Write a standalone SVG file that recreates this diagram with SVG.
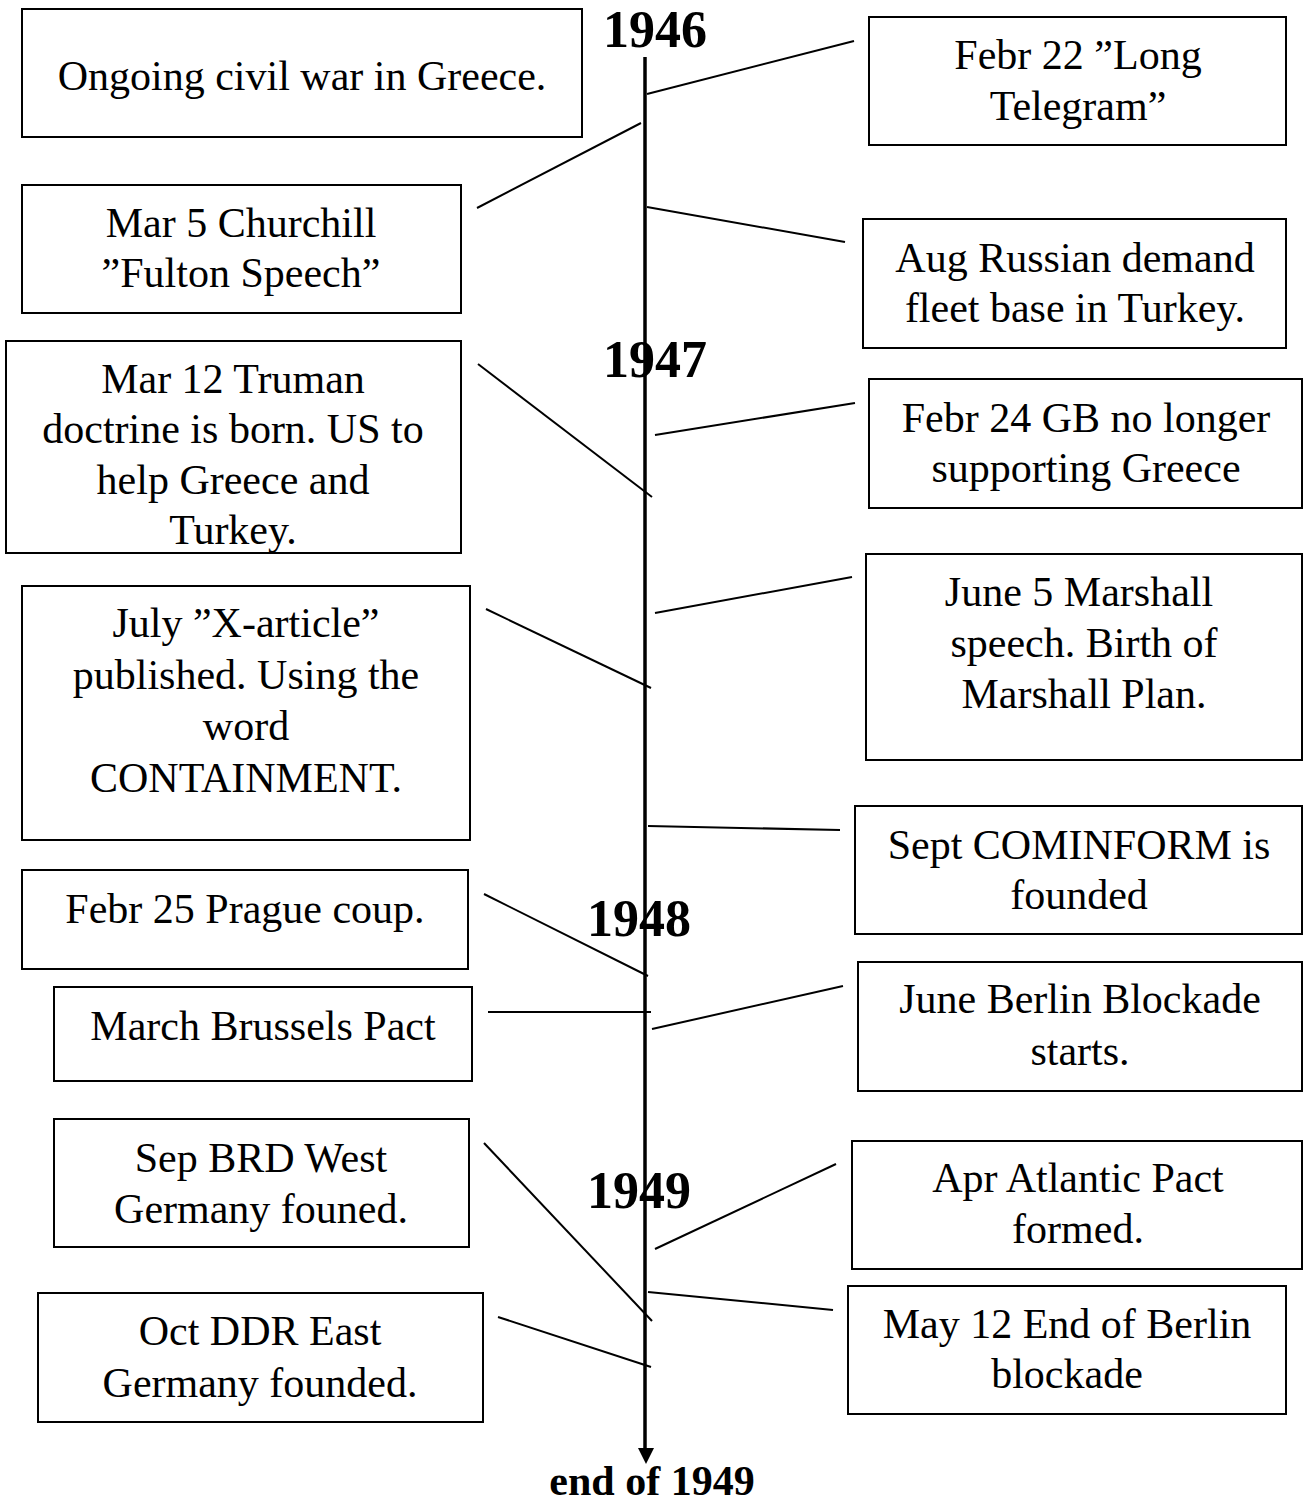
<svg xmlns="http://www.w3.org/2000/svg" width="1308" height="1504" viewBox="0 0 1308 1504">
<style>
.box{fill:#fff;stroke:#000;stroke-width:2}
.t{font-family:"Liberation Serif","Times New Roman",serif;font-size:42px;fill:#000;text-anchor:middle}
.yr{font-family:"Liberation Serif","Times New Roman",serif;font-size:52px;font-weight:bold;fill:#000}
.end{font-family:"Liberation Serif","Times New Roman",serif;font-size:42px;font-weight:bold;fill:#000;text-anchor:middle}
.c{stroke:#000;stroke-width:2;fill:none}
</style>
<rect width="1308" height="1504" fill="#fff"/>
<g id="timeline">
<line x1="645" y1="57" x2="645" y2="1450" stroke="#000" stroke-width="3.5"/>
<polygon points="638,1448 654,1448 646,1464" fill="#000"/>
<text class="yr" x="603" y="47">1946</text>
<text class="yr" x="603" y="377">1947</text>
<text class="yr" x="587" y="936">1948</text>
<text class="yr" x="587" y="1208">1949</text>
<text class="end" x="652" y="1495">end of 1949</text>
</g>
<g id="connectors">
<line class="c" x1="647" y1="94" x2="854" y2="41"/>
<line class="c" x1="477" y1="208" x2="641" y2="123"/>
<line class="c" x1="647" y1="207" x2="845" y2="242"/>
<line class="c" x1="478" y1="364" x2="652" y2="497"/>
<line class="c" x1="655" y1="435" x2="855" y2="403"/>
<line class="c" x1="486" y1="609" x2="651" y2="688"/>
<line class="c" x1="655" y1="613" x2="852" y2="577"/>
<line class="c" x1="648" y1="826" x2="840" y2="830"/>
<line class="c" x1="484" y1="894" x2="648" y2="976"/>
<line class="c" x1="488" y1="1012" x2="651" y2="1012"/>
<line class="c" x1="652" y1="1029" x2="843" y2="986"/>
<line class="c" x1="484" y1="1143" x2="652" y2="1321"/>
<line class="c" x1="655" y1="1249" x2="836" y2="1164"/>
<line class="c" x1="648" y1="1292" x2="833" y2="1310"/>
<line class="c" x1="498" y1="1317" x2="651" y2="1367"/>
</g>
<g id="n1"><rect class="box" x="22" y="9" width="560" height="128"/><text class="t" x="302" y="90">Ongoing civil war in Greece.</text></g>
<g id="n2"><rect class="box" x="22" y="185" width="439" height="128"/><text class="t" x="241" y="237">Mar 5 Churchill</text><text class="t" x="241" y="287">”Fulton Speech”</text></g>
<g id="n3"><rect class="box" x="6" y="341" width="455" height="212"/><text class="t" x="233" y="393">Mar 12 Truman</text><text class="t" x="233" y="443">doctrine is born. US to</text><text class="t" x="233" y="494">help Greece and</text><text class="t" x="233" y="544">Turkey.</text></g>
<g id="n4"><rect class="box" x="22" y="586" width="448" height="254"/><text class="t" x="246" y="637">July ”X-article”</text><text class="t" x="246" y="689">published. Using the</text><text class="t" x="246" y="740">word</text><text class="t" x="246" y="792">CONTAINMENT.</text></g>
<g id="n5"><rect class="box" x="22" y="870" width="446" height="99"/><text class="t" x="245" y="923">Febr 25 Prague coup.</text></g>
<g id="n6"><rect class="box" x="54" y="987" width="418" height="94"/><text class="t" x="263" y="1040">March Brussels Pact</text></g>
<g id="n7"><rect class="box" x="54" y="1119" width="415" height="128"/><text class="t" x="261" y="1172">Sep BRD West</text><text class="t" x="261" y="1223">Germany founed.</text></g>
<g id="n8"><rect class="box" x="38" y="1293" width="445" height="129"/><text class="t" x="260" y="1345">Oct DDR East</text><text class="t" x="260" y="1397">Germany founded.</text></g>
<g id="n9"><rect class="box" x="869" y="17" width="417" height="128"/><text class="t" x="1078" y="69">Febr 22 ”Long</text><text class="t" x="1078" y="120">Telegram”</text></g>
<g id="n10"><rect class="box" x="863" y="219" width="423" height="129"/><text class="t" x="1075" y="272">Aug Russian demand</text><text class="t" x="1075" y="322">fleet base in Turkey.</text></g>
<g id="n11"><rect class="box" x="869" y="379" width="433" height="129"/><text class="t" x="1086" y="432">Febr 24 GB no longer</text><text class="t" x="1086" y="482">supporting Greece</text></g>
<g id="n12"><rect class="box" x="866" y="554" width="436" height="206"/><text class="t" x="1079" y="606">June 5 Marshall</text><text class="t" x="1084" y="657">speech. Birth of</text><text class="t" x="1084" y="708">Marshall Plan.</text></g>
<g id="n13"><rect class="box" x="855" y="806" width="447" height="128"/><text class="t" x="1079" y="859">Sept COMINFORM is</text><text class="t" x="1079" y="909">founded</text></g>
<g id="n14"><rect class="box" x="858" y="962" width="444" height="129"/><text class="t" x="1080" y="1013">June Berlin Blockade</text><text class="t" x="1080" y="1065">starts.</text></g>
<g id="n15"><rect class="box" x="852" y="1141" width="450" height="128"/><text class="t" x="1078" y="1192">Apr Atlantic Pact</text><text class="t" x="1078" y="1243">formed.</text></g>
<g id="n16"><rect class="box" x="848" y="1286" width="438" height="128"/><text class="t" x="1067" y="1338">May 12 End of Berlin</text><text class="t" x="1067" y="1388">blockade</text></g>
</svg>
